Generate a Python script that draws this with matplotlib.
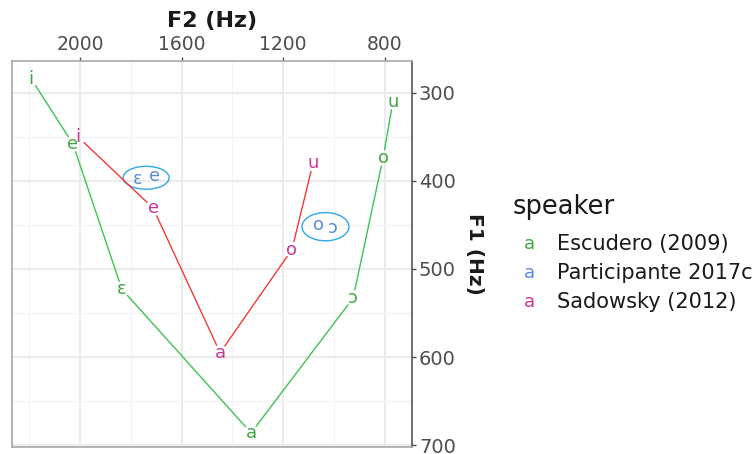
import matplotlib
matplotlib.use("Agg")
import matplotlib.pyplot as plt
from matplotlib.patches import Ellipse
import numpy as np

# ---- data ----
esc_vowels = ['i', 'e', 'ɛ', 'a', 'ɔ', 'o', 'u']
esc_f2 = [2193, 2028, 1835, 1326, 924, 806, 767]
esc_f1 = [284, 358, 523, 686, 533, 374, 310]

sad_vowels = ['i', 'e', 'a', 'o', 'u']
sad_f2 = [2008, 1712, 1448, 1165, 1082]
sad_f1 = [350, 431, 595, 478, 380]

part_vowels = ['ɛ', 'e', 'o', 'ɔ']
part_f2 = [1771, 1708, 1062, 1004]
part_f1 = [398, 395, 450, 454]
part_groups = [[0, 1], [2, 3]]
ellipse_w = [181, 185]
ellipse_h = [26, 32]

speakers = ['Escudero (2009)', 'Participante 2017c', 'Sadowsky (2012)']
f2_ticks = [2000, 1600, 1200, 800]
f1_ticks = [300, 400, 500, 600, 700]

# ---- styles ----
GREEN_TXT = '#3FA843'
GREEN_LINE = '#3CC454'
PINK_TXT = '#C8389A'
RED_LINE = '#F23A3A'
BLUE_TXT = '#5A8CDB'
ELL_COL = '#2EA9E8'

W, H = 756, 454
fig = plt.figure(figsize=(W / 100, H / 100), dpi=100)
L, R, T, B = 12, 412, 61, 447
ax = fig.add_axes([L / W, 1 - B / H, (R - L) / W, (B - T) / H])

ax.set_xlim(2268, 692)
ax.set_ylim(702, 264)

ax.xaxis.tick_top()
ax.xaxis.set_label_position('top')
ax.yaxis.tick_right()
ax.yaxis.set_label_position('right')
ax.set_xticks(f2_ticks)
ax.set_yticks(f1_ticks)
ax.set_xticks([2200, 1800, 1400, 1000], minor=True)
ax.set_yticks([350, 450, 550, 650], minor=True)
ax.tick_params(axis='x', which='major', labelsize=13.5, colors='#4D4D4D', length=3, width=1, pad=2)
ax.tick_params(axis='y', which='major', labelsize=14, colors='#4D4D4D', length=3, width=1, pad=2)
ax.tick_params(which='minor', length=0)
ax.grid(which='major', color='#EBEBEB', lw=1.4)
ax.grid(which='minor', color='#F4F4F4', lw=0.9)
ax.set_axisbelow(True)
for s in ['top', 'left', 'bottom']:
    ax.spines[s].set_color('#A8A8A8')
    ax.spines[s].set_linewidth(1.2)
ax.spines['right'].set_color('#555555')
ax.spines['right'].set_linewidth(1.2)

ax.set_xlabel('F2 (Hz)', fontsize=16, fontweight='bold', labelpad=6, color='#1A1A1A')
ax.set_ylabel('F1 (Hz)', fontsize=14.5, fontweight='bold', rotation=-90, labelpad=20, color='#1A1A1A')


def draw_path(f2, f1, color):
    for i in range(len(f2) - 1):
        ax.annotate('', xy=(f2[i + 1], f1[i + 1]), xytext=(f2[i], f1[i]),
                    arrowprops=dict(arrowstyle='-', color=color, lw=1.0,
                                    shrinkA=6, shrinkB=6))


draw_path(esc_f2, esc_f1, GREEN_LINE)
draw_path(sad_f2, sad_f1, RED_LINE)

for v, x, y in zip(esc_vowels, esc_f2, esc_f1):
    ax.text(x, y, v, color=GREEN_TXT, fontsize=13, ha='center', va='center')
for v, x, y in zip(sad_vowels, sad_f2, sad_f1):
    ax.text(x, y, v, color=PINK_TXT, fontsize=13, ha='center', va='center')
for v, x, y in zip(part_vowels, part_f2, part_f1):
    ax.text(x, y, v, color=BLUE_TXT, fontsize=13, ha='center', va='center')

for g, w, h in zip(part_groups, ellipse_w, ellipse_h):
    cx = np.mean([part_f2[i] for i in g])
    cy = np.mean([part_f1[i] for i in g])
    ax.add_patch(Ellipse((cx, cy), w, h, fill=False, edgecolor=ELL_COL, lw=1.0))

# ---- legend ----
fig.text(513 / W, 1 - 207 / H, 'speaker', fontsize=18.5, color='#1A1A1A', va='center', ha='left')
leg_cols = [GREEN_TXT, BLUE_TXT, PINK_TXT]
for k, (name, c) in enumerate(zip(speakers, leg_cols)):
    y = 1 - (244 + 29 * k) / H
    fig.text(529 / W, y, 'a', color=c, fontsize=13, ha='center', va='center')
    fig.text(557 / W, y, name, color='#1A1A1A', fontsize=15, ha='left', va='center')

fig.savefig('out.png', dpi=100)
